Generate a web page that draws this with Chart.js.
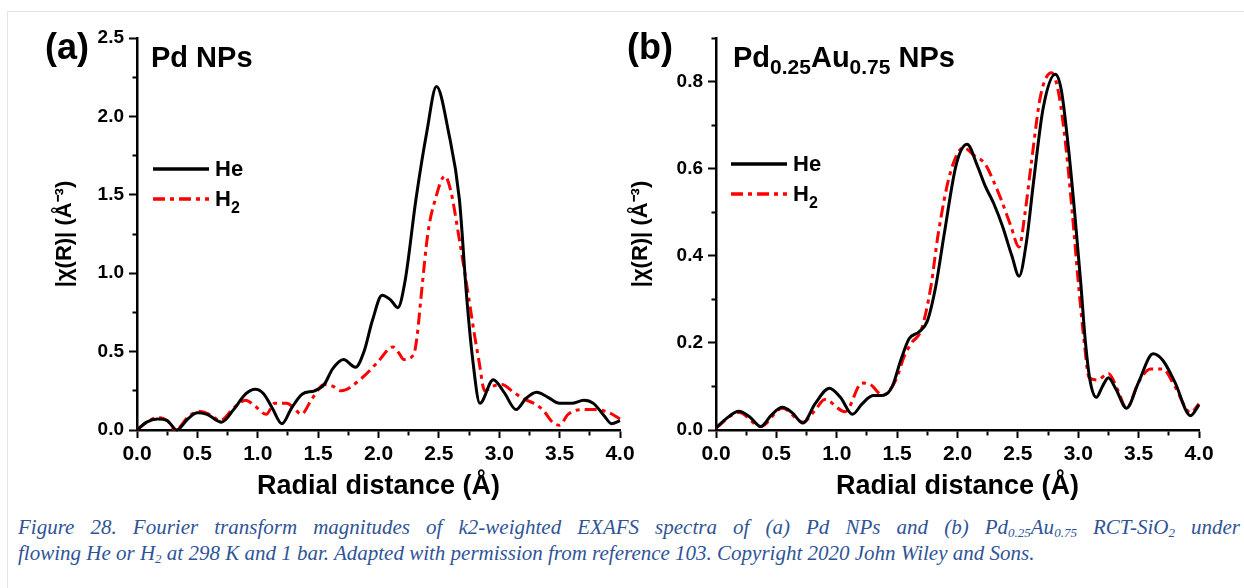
<!DOCTYPE html>
<html>
<head>
<meta charset="utf-8">
<title>EXAFS Fourier transform magnitudes</title>
<script src="https://cdn.jsdelivr.net/npm/chart.js@4.4.1/dist/chart.umd.min.js"></script>
<style>
  html, body { margin: 0; padding: 0; background: #fff; }
  body { width: 1244px; height: 588px; position: relative; overflow: hidden;
         font-family: "Liberation Sans", Arial, sans-serif; color: #000; }
  .frame { position: absolute; left: 7px; top: 11px; width: 1250px; height: 600px;
           border-left: 1px solid #e4e4e4; border-top: 1px solid #e4e4e4; }
  .box { position: absolute; top: 20px; height: 490px; }
  #boxA { left: 30px; width: 610px; }
  #boxB { left: 600px; width: 620px; }
  .tag { position: absolute; top: 29px; font-weight: bold; font-size: 36px; line-height: 1; }
  .name { position: absolute; top: 43px; font-weight: bold; font-size: 29px; line-height: 1; white-space: nowrap; }
  .name sub { font-size: 21px; vertical-align: -7px; line-height: 0; }
  .legend { position: absolute; font-weight: bold; font-size: 22px; }
  .legend div { display: flex; align-items: center; height: 30px; }
  .legend svg { margin-right: 6px; }
  .legend span { line-height: 22px; }
  .legend sub { font-size: 16px; vertical-align: -7px; line-height: 0; }
  .caption { position: absolute; left: 18px; top: 514px; width: 1222px;
             font-family: "Liberation Serif", "Times New Roman", serif; font-style: italic;
             font-size: 21px; line-height: 26px; color: #2f5496; }
  .caption .full { text-align: justify; text-align-last: justify; white-space: normal; }
  .caption .last { white-space: nowrap; }
  .caption sub { font-size: 13px; vertical-align: -3px; line-height: 0; }
</style>
</head>
<body>
<div class="frame"></div>

<div class="box" id="boxA"><canvas id="chartA"></canvas></div>
<div class="box" id="boxB"><canvas id="chartB"></canvas></div>

<div class="tag" style="left:45px">(a)</div>
<div class="name" style="left:151px">Pd NPs</div>
<div class="legend" id="legendA" style="left:153px; top:154px"></div>

<div class="tag" style="left:627px">(b)</div>
<div class="name" style="left:733px">Pd<sub>0.25</sub>Au<sub>0.75</sub> NPs</div>
<div class="legend" id="legendB" style="left:731px; top:149px"></div>

<div class="caption">
  <div class="full">Figure 28. Fourier transform magnitudes of k2-weighted EXAFS spectra of (a) Pd NPs and (b) Pd<sub>0.25</sub>Au<sub>0.75</sub> RCT-SiO<sub>2</sub> under</div>
  <div class="last">flowing He or H<sub>2</sub> at 298 K and 1 bar. Adapted with permission from reference 103. Copyright 2020 John Wiley and Sons.</div>
</div>

<script>
// series names
const seriesNames = ["He", "H₂"];

// (a) Pd NPs, He
const rHeA =   [0.00, 0.08, 0.17, 0.25, 0.33, 0.42, 0.50, 0.58, 0.70, 0.80, 0.90, 0.98, 1.05, 1.12, 1.20, 1.28, 1.37, 1.47, 1.55, 1.62, 1.71, 1.81, 1.88, 1.95, 2.03, 2.10, 2.16, 2.22, 2.31, 2.40, 2.48, 2.58, 2.67, 2.73, 2.78, 2.84, 2.95, 3.04, 3.14, 3.22, 3.31, 3.40, 3.50, 3.60, 3.70, 3.78, 3.87, 3.93, 4.00];
const chiHeA = [0.00, 0.05, 0.07, 0.06, 0.00, 0.07, 0.11, 0.10, 0.05, 0.13, 0.23, 0.26, 0.23, 0.14, 0.04, 0.14, 0.23, 0.25, 0.29, 0.39, 0.45, 0.40, 0.50, 0.70, 0.86, 0.83, 0.78, 0.95, 1.47, 1.90, 2.19, 1.90, 1.47, 0.85, 0.45, 0.17, 0.32, 0.24, 0.13, 0.20, 0.24, 0.21, 0.17, 0.17, 0.19, 0.17, 0.09, 0.04, 0.06];

// (a) Pd NPs, H2
const rH2A =   [0.00, 0.08, 0.18, 0.25, 0.32, 0.42, 0.51, 0.60, 0.69, 0.80, 0.90, 0.98, 1.07, 1.14, 1.24, 1.30, 1.36, 1.45, 1.55, 1.62, 1.69, 1.86, 1.99, 2.12, 2.17, 2.21, 2.29, 2.32, 2.35, 2.41, 2.47, 2.55, 2.60, 2.66, 2.75, 2.79, 2.83, 2.88, 2.95, 3.02, 3.12, 3.20, 3.31, 3.37, 3.44, 3.50, 3.57, 3.69, 3.80, 3.91, 4.00];
const chiH2A = [0.00, 0.05, 0.08, 0.06, 0.00, 0.08, 0.12, 0.10, 0.06, 0.14, 0.19, 0.15, 0.10, 0.17, 0.17, 0.14, 0.10, 0.20, 0.29, 0.28, 0.25, 0.33, 0.43, 0.53, 0.49, 0.45, 0.48, 0.60, 0.83, 1.26, 1.47, 1.62, 1.52, 1.26, 0.83, 0.63, 0.45, 0.25, 0.28, 0.29, 0.24, 0.20, 0.16, 0.12, 0.05, 0.03, 0.10, 0.13, 0.13, 0.11, 0.07];

// (b) Pd0.25Au0.75 NPs, He
const rHeB =   [0.00, 0.08, 0.19, 0.28, 0.37, 0.46, 0.55, 0.63, 0.72, 0.82, 0.94, 1.03, 1.13, 1.21, 1.30, 1.39, 1.46, 1.53, 1.60, 1.68, 1.75, 1.82, 1.89, 1.99, 2.08, 2.16, 2.23, 2.30, 2.37, 2.45, 2.51, 2.57, 2.63, 2.71, 2.81, 2.86, 2.92, 2.97, 3.02, 3.06, 3.10, 3.15, 3.20, 3.25, 3.31, 3.40, 3.50, 3.62, 3.70, 3.80, 3.93, 4.00];
const chiHeB = [0.005, 0.025, 0.043, 0.030, 0.008, 0.035, 0.052, 0.040, 0.016, 0.060, 0.096, 0.075, 0.036, 0.060, 0.079, 0.080, 0.100, 0.160, 0.210, 0.225, 0.250, 0.330, 0.450, 0.610, 0.656, 0.610, 0.560, 0.520, 0.470, 0.400, 0.353, 0.430, 0.570, 0.740, 0.817, 0.780, 0.644, 0.500, 0.340, 0.200, 0.110, 0.075, 0.100, 0.120, 0.095, 0.050, 0.110, 0.175, 0.160, 0.110, 0.033, 0.058];

// (b) Pd0.25Au0.75 NPs, H2
const rH2B =   [0.00, 0.19, 0.37, 0.55, 0.72, 0.82, 0.90, 1.07, 1.21, 1.28, 1.38, 1.49, 1.56, 1.62, 1.70, 1.78, 1.84, 1.94, 2.05, 2.14, 2.23, 2.30, 2.36, 2.44, 2.51, 2.56, 2.61, 2.69, 2.78, 2.84, 2.90, 2.95, 3.00, 3.05, 3.09, 3.16, 3.25, 3.33, 3.40, 3.50, 3.60, 3.70, 3.80, 3.93, 4.00];
const chiH2B = [0.005, 0.040, 0.008, 0.050, 0.018, 0.045, 0.070, 0.042, 0.108, 0.104, 0.080, 0.115, 0.170, 0.200, 0.230, 0.330, 0.450, 0.590, 0.648, 0.630, 0.610, 0.570, 0.530, 0.470, 0.420, 0.500, 0.610, 0.770, 0.820, 0.770, 0.644, 0.500, 0.340, 0.200, 0.120, 0.115, 0.130, 0.090, 0.050, 0.110, 0.140, 0.140, 0.100, 0.040, 0.060];

const xTitle = "Radial distance (Å)";
const yTitle = "|χ(R)| (Å⁻³)";

function pts(xs, ys) {
  return xs.map((x, i) => ({ x: x, y: ys[i] }));
}

function isMajor(v, step) {
  return Math.abs(v / step - Math.round(v / step)) < 1e-6;
}

function makeDatasets(rHe, chiHe, rH2, chiH2) {
  return [
    { label: seriesNames[0], data: pts(rHe, chiHe), borderColor: "#000000", borderWidth: 3,
      pointRadius: 0, cubicInterpolationMode: "monotone", clip: false },
    { label: seriesNames[1], data: pts(rH2, chiH2), borderColor: "#ff0000", borderWidth: 3,
      borderDash: [12, 5, 4, 5], pointRadius: 0, cubicInterpolationMode: "monotone", clip: false }
  ];
}

function makeOptions(yMax, yStep, yMajor, yWidth, yTitlePad, rightPad) {
  return {
    responsive: false,
    animation: false,
    devicePixelRatio: 1,
    layout: { padding: { top: 18, right: rightPad, bottom: 0, left: 0 } },
    plugins: { legend: { display: false }, tooltip: { enabled: false } },
    scales: {
      x: {
        type: "linear", min: 0, max: 4,
        ticks: {
          stepSize: 0.25, autoSkip: false, maxRotation: 0, padding: 4, color: "#000",
          font: { family: "Liberation Sans", weight: "bold", size: 21 },
          callback: v => isMajor(v, 0.5) ? v.toFixed(1) : ""
        },
        grid: {
          drawOnChartArea: false, tickLength: 8, tickWidth: 2, tickColor: "#000",
          tickBorderDash: c => isMajor(c.tick.value, 0.5) ? [] : [4, 40]
        },
        border: { color: "#000", width: 2.5 },
        title: { display: true, text: xTitle, color: "#000", padding: { top: 0, bottom: 7 },
                 font: { family: "Liberation Sans", weight: "bold", size: 27 } },
        afterFit: s => { s.height = 80; }
      },
      y: {
        type: "linear", min: 0, max: yMax,
        ticks: {
          stepSize: yStep, autoSkip: false, padding: 5, color: "#000",
          font: { family: "Liberation Sans", weight: "bold", size: 19 },
          callback: v => isMajor(v, yMajor) ? v.toFixed(1) : ""
        },
        grid: {
          drawOnChartArea: false, tickLength: 8, tickWidth: 2, tickColor: "#000",
          tickBorderDash: c => isMajor(c.tick.value, yMajor) ? [] : [0, 3.5, 20, 1]
        },
        border: { color: "#000", width: 2.5 },
        title: { display: true, text: yTitle, color: "#000", padding: { top: yTitlePad, bottom: 0 },
                 font: { family: "Liberation Sans", weight: "bold", size: 22 } },
        afterFit: s => { s.width = yWidth; }
      }
    }
  };
}

function buildLegend(el, datasets) {
  el.innerHTML = datasets.map(d => {
    const dash = (d.borderDash || []).join(" ");
    const text = d.label.replace("₂", "<sub>2</sub>");
    return '<div><svg width="56" height="8"><line x1="0" y1="4" x2="56" y2="4" stroke="' +
      d.borderColor + '" stroke-width="3.5" stroke-dasharray="' + dash + '"/></svg><span>' + text + "</span></div>";
  }).join("");
}

function sizeCanvas(id, box) {
  const c = document.getElementById(id);
  const b = document.getElementById(box);
  c.width = b.clientWidth;
  c.height = b.clientHeight;
  return c;
}

const dataA = makeDatasets(rHeA, chiHeA, rH2A, chiH2A);
const dataB = makeDatasets(rHeB, chiHeB, rH2B, chiH2B);

new Chart(sizeCanvas("chartA", "boxA"), {
  type: "line",
  data: { datasets: dataA },
  options: makeOptions(2.5, 0.25, 0.5, 107, 22, 20)
});

new Chart(sizeCanvas("chartB", "boxB"), {
  type: "line",
  data: { datasets: dataB },
  options: makeOptions(0.9, 0.1, 0.2, 116, 28, 21)
});

buildLegend(document.getElementById("legendA"), dataA);
buildLegend(document.getElementById("legendB"), dataB);
</script>
</body>
</html>
